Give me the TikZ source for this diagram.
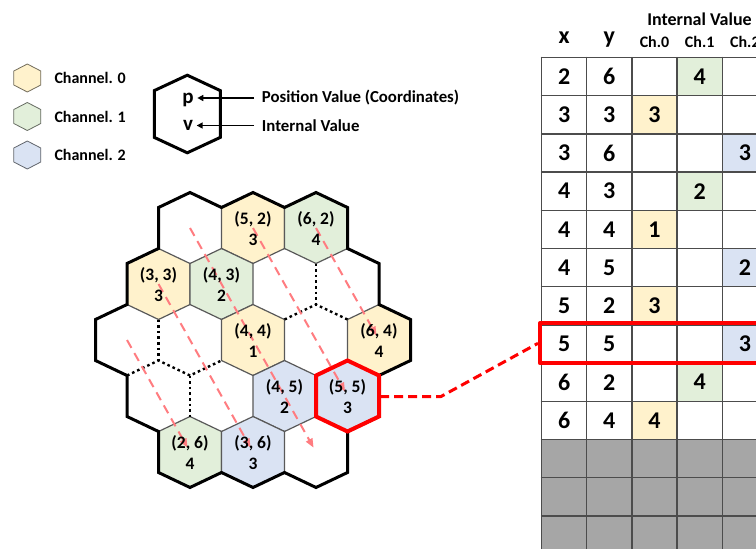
\documentclass[tikz,border=0pt]{standalone}
\usepackage{fontspec}
\setmainfont{Carlito}
\usepackage{tikz}
\usetikzlibrary{arrows.meta,calc}

\definecolor{chan0}{HTML}{FFF2CC}
\definecolor{chan1}{HTML}{E2EFDA}
\definecolor{chan2}{HTML}{DAE3F3}
\definecolor{padgray}{HTML}{A6A6A6}
\definecolor{hlred}{HTML}{FF0000}
\definecolor{scanred}{HTML}{FF7C80}
\definecolor{edgegray}{HTML}{595959}

% hexagon (pointy top) around a named point: half width, half side, half height
\newcommand{\hexat}[4]{(#1) +(0,-#4) -- +(#2,-#3) -- +(#2,#3) -- +(0,#4) -- +(-#2,#3) -- +(-#2,-#3) -- cycle}
\newcommand{\fsz}[1]{\fontsize{#1}{#1}\selectfont}

\begin{document}
\begin{tikzpicture}[line cap=round,line join=round,>={Triangle[length=6pt,width=6pt]},x=1pt,y=-1pt,
    cell/.style={draw=edgegray,line width=1.2pt},
    rim/.style={draw=black,line width=3pt,line join=miter},
    voidedge/.style={black,line width=2.4pt,line cap=butt,dash pattern=on 2.6pt off 3pt},
    scan/.style={scanred,line width=2pt,line cap=butt,dash pattern=on 9pt off 6pt,-{Triangle[length=9pt,width=7pt]},shorten >=5pt},
    celltext/.style={align=center,font=\bfseries\fontsize{17.5}{21}\selectfont,inner sep=0pt},
    legtext/.style={anchor=west,font=\bfseries\fsz{16},inner sep=0pt},
    tabnum/.style={font=\bfseries\fsz{24},inner sep=0pt},
    tabline/.style={draw=black!70,line width=1.3pt},
    rowlink/.style={hlred,line width=3pt,line cap=butt,dash pattern=on 9pt off 5pt}]
  \useasboundingbox (0,0) rectangle (756,549);
  \clip (0,0) rectangle (756,549);
  \fill[white] (0,0) rectangle (756,549);

  % legend
  \foreach \c/\yy [count=\k from 0] in {chan0/78,chan1/116.5,chan2/155}{
    \coordinate (lg\k) at (27.3,\yy);
    \draw[draw=\c!45!black,fill=\c,line width=0.8pt] \hexat{lg\k}{13.5}{7}{14};
    \node[legtext] (lgtext\k) at (54.3,\yy) {Channel. \k};
  }
  \coordinate (key) at (187.3,114);
  \draw[line width=3pt,line join=miter] \hexat{key}{33}{23.4}{38.8};
  \node[anchor=base,font=\bfseries\fsz{21},inner xsep=3.5pt,inner ysep=0pt] (keyp) at (188,103.5) {p};
  \node[anchor=base,font=\bfseries\fsz{21},inner xsep=3.5pt,inner ysep=0pt] (keyv) at (188,130.5) {v};
  \node[legtext,font=\bfseries\fsz{16.8},inner xsep=7.7pt] (posnote) at (254,98) {Position Value (Coordinates)};
  \node[legtext,font=\bfseries\fsz{16.8},inner xsep=7.7pt] (valnote) at (254,125.5) {Internal Value};
  \draw[->,line width=1.5pt,line cap=butt] (posnote.west) -- (posnote.west -| keyp.east);
  \draw[->,line width=1.5pt,line cap=butt] (valnote.west) -- (valnote.west -| keyv.east);

  % honeycomb, cells named by (x,y)
  \foreach \hy/\xa/\xb in {2/4/6,3/3/6,4/2/6,5/2/5,6/2/4}
    \foreach \hx in {\xa,...,\xb}
      \coordinate (c\hx\hy) at ({127+63*(\hx-2)+31.5*(\hy-4)},{228+56*(\hy-2)});

  \foreach \hx/\hy/\c in {5/2/chan0,6/2/chan1,3/3/chan0,4/3/chan1,4/4/chan0,6/4/chan0,4/5/chan2,5/5/chan2,2/6/chan1,3/6/chan2}
    \draw[cell,fill=\c] \hexat{c\hx\hy}{31.5}{20.5}{35.5};

  % edges between two empty cells
  \draw[voidedge] (316,263.5) -- (316,304.5);
  \draw[voidedge] (284.5,319.5) -- (316,304.5) -- (347.5,319.5);
  \draw[voidedge] (158.5,319.5) -- (158.5,360.5);
  \draw[voidedge] (127,375.5) -- (158.5,360.5) -- (190,375.5) -- (221.5,360.5);
  \draw[voidedge] (190,375.5) -- (190,416.5);

  % outline
  \draw[rim] (158.5,207.5) -- (190,192.5) -- (221.5,207.5) -- (253,192.5) -- (284.5,207.5) -- (316,192.5)
    -- (347.5,207.5) -- (347.5,248.5) -- (379,263.5) -- (379,304.5) -- (410.5,319.5) -- (410.5,360.5)
    -- (379,375.5) -- (379,416.5) -- (347.5,431.5) -- (347.5,472.5) -- (316,487.5) -- (284.5,472.5)
    -- (253,487.5) -- (221.5,472.5) -- (190,487.5) -- (158.5,472.5) -- (158.5,431.5) -- (127,416.5)
    -- (127,375.5) -- (95.5,360.5) -- (95.5,319.5) -- (127,304.5) -- (127,263.5) -- (158.5,248.5) -- cycle;

  % scan order
  \draw[scan] (c42) -- (c46);
  \draw[scan] (c52) -- (c55);
  \draw[scan] (c62) -- (c64);
  \draw[scan] (c33) -- (c36);
  \draw[scan] (c24) -- (c26);

  \draw[hlred,line width=4pt,line join=miter] \hexat{c55}{31.5}{20.5}{35.5};

  \foreach \hx/\hy/\v in {5/2/3,6/2/4,3/3/3,4/3/2,4/4/1,6/4/4,4/5/2,5/5/3,2/6/4,3/6/3}
    \node[celltext] (h\hx\hy) at ($(c\hx\hy)+(0,1)$) {(\hx, \hy)\\\v};

  % table
  \node[anchor=base,font=\bfseries\fsz{18},inner sep=0pt] (ivhead) at (699.5,25) {Internal Value};
  \node[anchor=base,font=\bfseries\fsz{24},inner sep=0pt] (xhead) at (564.1,43.5) {x};
  \node[anchor=base,font=\bfseries\fsz{24},inner sep=0pt] (yhead) at (609.3,43.5) {y};
  \foreach \k in {0,1,2}
    \node[anchor=base,font=\bfseries\fsz{16},inner sep=0pt] (chhead\k) at ({654.5+45.2*\k},47) {Ch.\k};

  \foreach \tx/\ty/\ch/\tv [count=\r from 0] in {2/6/1/4,3/3/0/3,3/6/2/3,4/3/1/2,4/4/0/1,4/5/2/2,5/2/0/3,5/5/2/3,6/2/1/4,6/4/0/4}{
    \fill[chan\ch] ({631.9+45.2*\ch},{57.5+38.2*\r}) rectangle ++(45.2,38.2);
    \node[tabnum] (tx\r) at (564.1,{76.6+38.2*\r}) {\tx};
    \node[tabnum] (ty\r) at (609.3,{76.6+38.2*\r}) {\ty};
    \node[tabnum] (tv\r) at ({654.5+45.2*\ch},{76.6+38.2*\r}) {\tv};
  }
  \fill[padgray] (541.5,439.5) rectangle (790,560);
  \foreach \r in {0,...,13}
    \draw[tabline] (541.5,{57.5+38.2*\r}) -- (790,{57.5+38.2*\r});
  \foreach \c in {0,...,6}
    \draw[tabline] ({541.5+45.2*\c},57.5) -- ++(0,510);

  % selected row and its cell
  \node[draw=hlred,line width=4pt,minimum width=260pt,minimum height=40pt,inner sep=0pt] (rowsel) at (670,343.3) {};
  \coordinate (hexout) at (380,396.5);
  \draw[rowlink] (hexout) -- ++(61,0) -- (rowsel.west);
\end{tikzpicture}
\end{document}
